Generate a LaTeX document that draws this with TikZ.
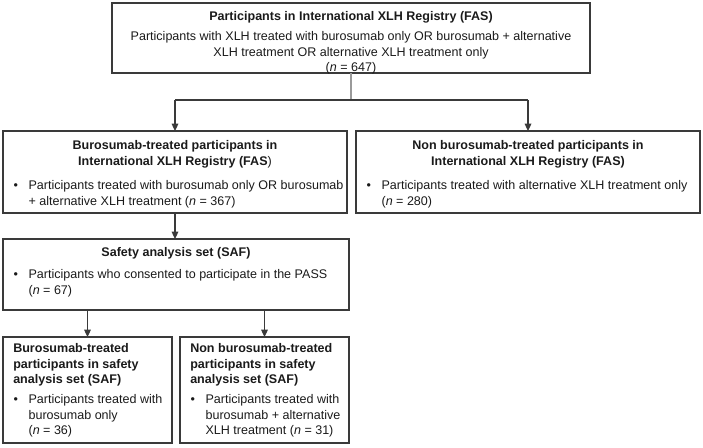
\documentclass[tikz,border=0pt]{standalone}
\usepackage{fontspec}
\setmainfont{Liberation Sans}
\usetikzlibrary{arrows.meta}
\definecolor{linec}{HTML}{3A3A3A}
\definecolor{greyc}{HTML}{9A9A9A}
\definecolor{textc}{HTML}{1A1A1A}
\newcommand{\bl}{\makebox[11.5pt][l]{\hspace{0.3pt}•}}
\newcommand{\ind}{\hspace*{11.5pt}}
\begin{document}
\begin{tikzpicture}[x=0.75pt,y=-0.75pt,
  box/.style={draw=linec, line width=0.95pt, anchor=north west, inner sep=0pt, outer sep=0pt},
  txt/.style={inner sep=0pt, text=textc, font=\fontsize{9.4}{11.4}\selectfont},
  ttl/.style={inner sep=0pt, text=textc, font=\fontsize{9.4}{11.4}\selectfont\bfseries},
  conn/.style={draw=linec, line width=0.85pt},
  arr/.style={draw=linec, line width=0.85pt, -{Triangle[length=5.5pt,width=5pt]}},
]
\useasboundingbox (0,0) rectangle (703,447);

% boxes
\node[box, minimum width=358.5pt, minimum height=52.5pt] (fas) at (112,3) {};
\node[box, minimum width=258pt, minimum height=61.5pt] (bur) at (3,131) {};
\node[box, minimum width=258pt, minimum height=61.5pt] (non) at (356,131) {};
\node[box, minimum width=259.5pt, minimum height=53.25pt] (saf) at (3,239) {};
\node[box, minimum width=126.75pt, minimum height=79.5pt] (sbur) at (3,337) {};
\node[box, minimum width=126.75pt, minimum height=79.5pt] (snon) at (180,337) {};

% texts: top box
\node[ttl, anchor=north] (fasT) at (351,11.5) {Participants in International XLH Registry (FAS)};
\node[txt, anchor=north, align=center] (fasB) at (351,31.5) {Participants with XLH treated with burosumab only OR burosumab + alternative\\XLH treatment OR alternative XLH treatment only\\(\textit{n} = 647)};

% burosumab FAS
\node[ttl, anchor=north, align=center] (burT) at (175,140.5) {Burosumab-treated participants in\\International XLH Registry (FAS\mdseries)};
\node[txt, anchor=north west, align=left] (burB) at (13,180.5) {\bl Participants treated with burosumab only OR burosumab\\\ind+ alternative XLH treatment (\textit{n} = 367)};

% non burosumab FAS
\node[ttl, anchor=north, align=center] (nonT) at (528,140.5) {Non burosumab-treated participants in\\International XLH Registry (FAS)};
\node[txt, anchor=north west, align=left] (nonB) at (366,180.5) {\bl Participants treated with alternative XLH treatment only\\\ind(\textit{n} = 280)};

% SAF
\node[ttl, anchor=north] (safT) at (176,247.5) {Safety analysis set (SAF)};
\node[txt, anchor=north west, align=left] (safB) at (13,269.5) {\bl Participants who consented to participate in the PASS\\\ind(\textit{n} = 67)};

% SAF burosumab
\node[ttl, anchor=north west, align=left] (sburT) at (13,343.5) {Burosumab-treated\\participants in safety\\analysis set (SAF)};
\node[txt, anchor=north west, align=left] (sburB) at (13,394.5) {\bl Participants treated with\\\ind burosumab only\\\ind(\textit{n} = 36)};

% SAF non burosumab
\node[ttl, anchor=north west, align=left] (snonT) at (190,343.5) {Non burosumab-treated\\participants in safety\\analysis set (SAF)};
\node[txt, anchor=north west, align=left] (snonB) at (190,394.5) {\bl Participants treated with\\\ind burosumab + alternative\\\ind XLH treatment (\textit{n} = 31)};

% connectors
\coordinate (j) at (351,100);
\draw[draw=greyc, line width=0.85pt] (fas.south) -- (fas.south |- j);
\draw[conn] (bur.north |- j) -- (non.north |- j);
\draw[arr] (bur.north |- j) -- (bur.north);
\draw[arr] (non.north |- j) -- (non.north);
\draw[arr] (bur.south) -- (bur.south |- saf.north);
\draw[arr] (saf.south -| sbur.north) -- (sbur.north);
\draw[arr] (saf.south -| snon.north) -- (snon.north);
\end{tikzpicture}
\end{document}
